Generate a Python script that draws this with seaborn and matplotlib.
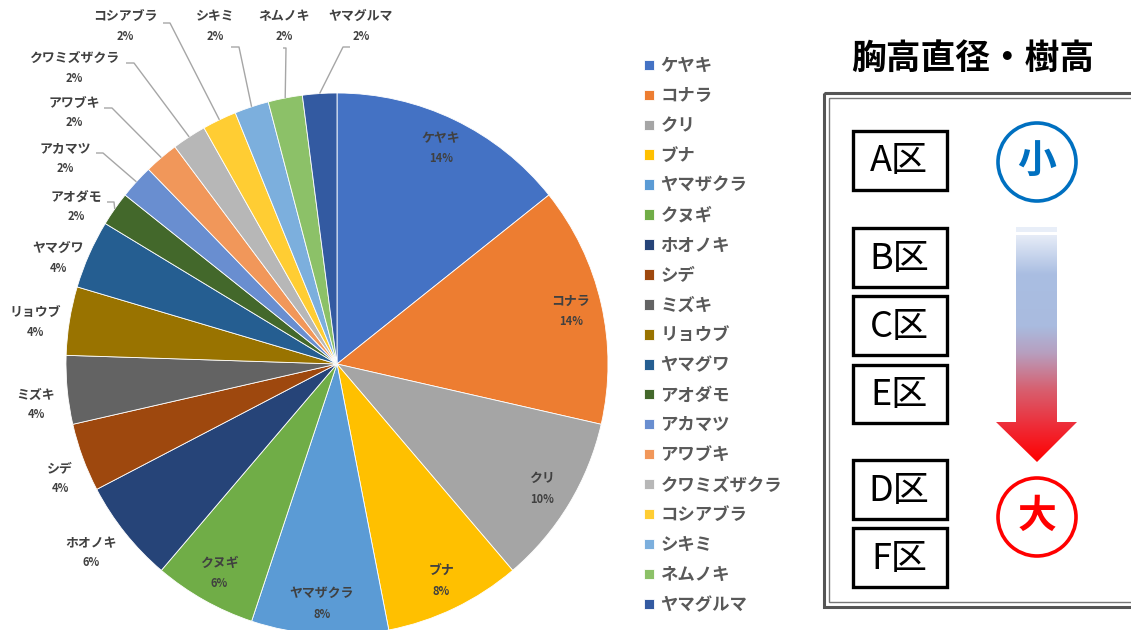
import numpy as np
import matplotlib
matplotlib.use("Agg")
import matplotlib.pyplot as plt
import seaborn as sns
from matplotlib.patches import Rectangle, Circle, Polygon
from matplotlib.colors import LinearSegmentedColormap

# ---------------- data ----------------
species = ["ケヤキ", "コナラ", "クリ", "ブナ", "ヤマザクラ", "クヌギ", "ホオノキ", "シデ",
           "ミズキ", "リョウブ", "ヤマグワ", "アオダモ", "アカマツ", "アワブキ",
           "クワミズザクラ", "コシアブラ", "シキミ", "ネムノキ", "ヤマグルマ"]
counts = [7, 7, 5, 4, 4, 3, 3, 2, 2, 2, 2, 1, 1, 1, 1, 1, 1, 1, 1]
colors = ["#4472C4", "#ED7D31", "#A5A5A5", "#FFC000", "#5B9BD5", "#70AD47", "#264478",
          "#9E480E", "#636363", "#997300", "#255E91", "#43682B", "#698ED0", "#F1975A",
          "#B7B7B7", "#FFCD33", "#7CAFDD", "#8CC168", "#335AA1"]
zones_order = ["A区", "B区", "C区", "E区", "D区", "F区"]
panel_title = "胸高直径・樹高"
small_label, large_label = "小", "大"

# ---------------- layout ----------------
W, H = 1131, 630
CX, CY, R = 337, 364, 271
inside_n = 6
# outside label centres (name line) for the remaining slices
outside_pos = {
    "ホオノキ": (91, 543), "シデ": (60, 468), "ミズキ": (36, 395), "リョウブ": (35, 312),
    "ヤマグワ": (58, 248), "アオダモ": (76, 197), "アカマツ": (65, 148), "アワブキ": (74, 103),
    "クワミズザクラ": (74, 58), "コシアブラ": (125, 16), "シキミ": (215, 16),
    "ネムノキ": (284, 16), "ヤマグルマ": (361, 16),
}
pct_gap = {"コシアブラ": 20, "シキミ": 20, "ネムノキ": 20, "ヤマグルマ": 20}
leaders = {  # (start, elbow) -> then to slice edge
    "アオダモ": ((107, 202), (114, 202)),
    "アカマツ": ((96, 153), (103, 153)),
    "アワブキ": ((104, 108), (112, 108)),
    "クワミズザクラ": ((126, 63), (134, 63)),
    "コシアブラ": ((163, 23), (170, 23)),
    "シキミ": ((231, 47), (239, 47)),
    "ネムノキ": ((283, 48), (286, 48)),
    "ヤマグルマ": ((350, 47), (343, 47)),
}

sns.set_theme(style="white")
plt.rcParams["font.family"] = ["Noto Sans CJK JP", "DejaVu Sans"]

fig = plt.figure(figsize=(W / 100, H / 100), dpi=100)
ax = fig.add_axes([0, 0, 1, 1])

palette = sns.color_palette(colors)
wedges, _ = ax.pie(counts, colors=palette, startangle=-90, counterclock=True,
                   center=(CX, CY), radius=R,
                   wedgeprops=dict(edgecolor="white", linewidth=0.6))
ax.set_xlim(0, W)
ax.set_ylim(H, 0)
ax.set_aspect("equal")
ax.axis("off")

total = sum(counts)
lab_col = "#404040"
for i, (w, name, c) in enumerate(zip(wedges, species, counts)):
    pct = f"{round(c / total * 100)}%"
    th = np.deg2rad((w.theta1 + w.theta2) / 2)
    if i < inside_n:
        x = CX + 0.885 * R * np.cos(th)
        y = CY + 0.885 * R * np.sin(th)
        ax.text(x, y - 10, name, ha="center", va="center", fontsize=9.3,
                color=lab_col, fontweight="bold")
        ax.text(x, y + 11, pct, ha="center", va="center", fontsize=8,
                color=lab_col, fontweight="bold")
    else:
        x, y = outside_pos[name]
        g = pct_gap.get(name, 20)
        ax.text(x, y, name, ha="center", va="center", fontsize=9.3,
                color=lab_col, fontweight="bold")
        ax.text(x, y + g, pct, ha="center", va="center", fontsize=8,
                color=lab_col, fontweight="bold")
        if name in leaders:
            (x0, y0), (x1, y1) = leaders[name]
            ex = CX + R * np.cos(th)
            ey = CY + R * np.sin(th)
            ax.plot([x0, x1, ex], [y0, y1, ey], color="#A6A6A6", lw=1.0,
                    solid_capstyle="butt")

# legend
leg = ax.legend(wedges, species, loc="upper left", bbox_to_anchor=(644, 57),
                bbox_transform=ax.transData, frameon=False, fontsize=12.5,
                handlelength=0.55, handleheight=0.55, handletextpad=0.4,
                labelspacing=0.688, borderpad=0, borderaxespad=0)
for t in leg.get_texts():
    t.set_color("#595959")
    t.set_fontweight("bold")

# ---------------- right panel ----------------
ax.text(973, 58, panel_title, ha="center", va="center", fontsize=25,
        fontweight="bold", color="black")
ax.add_patch(Rectangle((824, 93), 340, 514, fill=False, edgecolor="#555555", lw=2.2))
ax.add_patch(Rectangle((829, 98), 340, 504, fill=False, edgecolor="#777777", lw=1.0))

zone_boxes = [(131, 190), (228, 287), (296, 355), (365, 423), (460, 519), (528, 587)]
for z, (y0, y1) in zip(zones_order, zone_boxes):
    ax.add_patch(Rectangle((853, y0), 94, y1 - y0, fill=False, edgecolor="black", lw=2.4))
    ax.text(899, (y0 + y1) / 2 + 1, z, ha="center", va="center", fontsize=26,
            color="black")

ax.add_patch(Circle((1037, 162), 39, fill=False, edgecolor="#0070C0", lw=2.6))
ax.text(1037, 161, small_label, ha="center", va="center", fontsize=28,
        fontweight="bold", color="#0070C0")
ax.add_patch(Circle((1037, 517), 39, fill=False, edgecolor="#FF0000", lw=2.6))
ax.text(1037, 516, large_label, ha="center", va="center", fontsize=28,
        fontweight="bold", color="#FF0000")

# gradient arrow
cmap = LinearSegmentedColormap.from_list(
    "arr", [(0.0, "#e6ecf7"), (0.17, "#aabee2"), (0.40, "#a9bbdf"),
            (0.52, "#b79fbf"), (0.68, "#d76070"), (0.85, "#ef2a35"), (1.0, "#ff0000")])
grad = np.linspace(0, 1, 256).reshape(-1, 1)
arrow = Polygon([(1016, 235), (1057, 235), (1057, 422), (1077, 422), (1037, 462),
                 (996, 422), (1016, 422)], closed=True, facecolor="none", edgecolor="none")
ax.add_patch(arrow)
im = ax.imshow(grad, cmap=cmap, extent=(996, 1077, 462, 235), aspect="auto",
               interpolation="bilinear", zorder=2)
im.set_clip_path(arrow)
ax.add_patch(Rectangle((1016, 227), 41, 5, facecolor="#e8eef8", edgecolor="none"))
ax.set_xlim(0, W)
ax.set_ylim(H, 0)

fig.savefig("out.png", dpi=100)
